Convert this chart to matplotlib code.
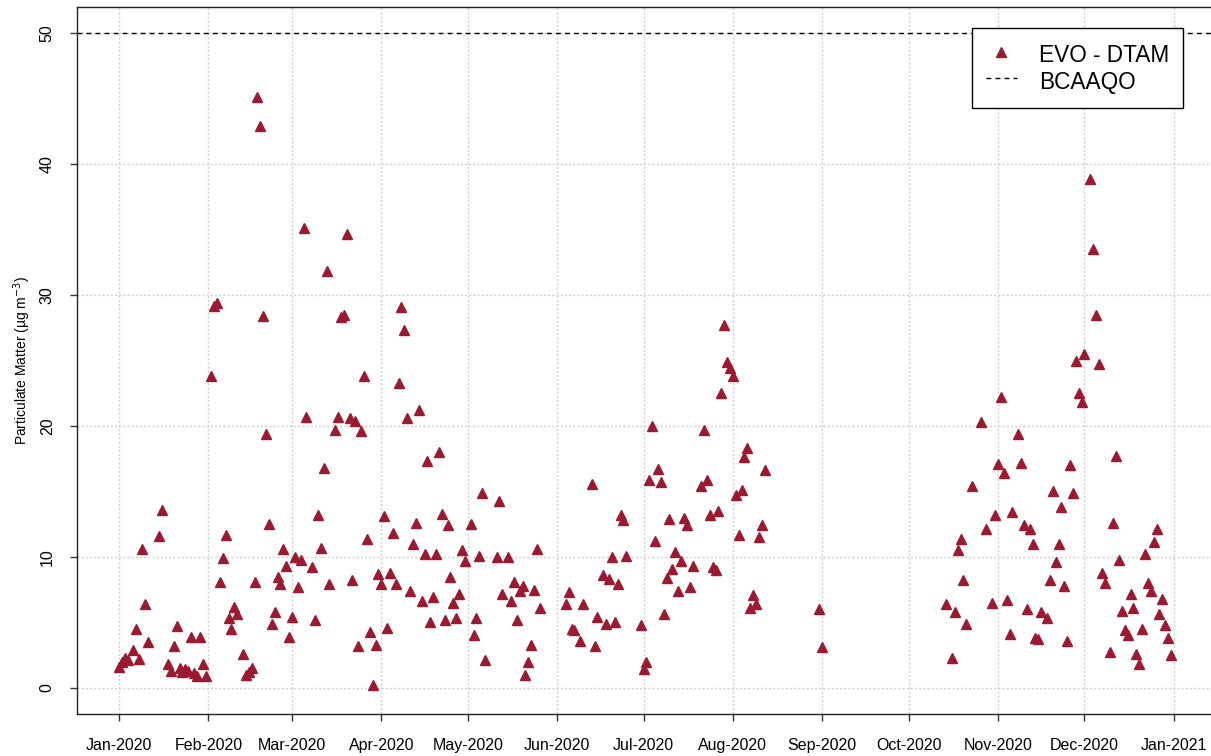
import pandas as pd
import matplotlib
matplotlib.use("Agg")
import matplotlib.pyplot as plt

plt.rcParams['font.family'] = ['Liberation Sans', 'DejaVu Sans']

# day of year (0 = 1 Jan 2020) and daily PM values
jan_days = [0, 1, 2, 3, 5, 6, 7, 8, 9, 10, 14, 15, 17, 18, 19, 20, 21, 22, 23, 24, 25, 26, 27, 28, 29, 30]
jan_pm = [1.6, 2.0, 2.3, 2.1, 2.9, 4.5, 2.2, 10.6, 6.4, 3.5, 11.6, 13.6, 1.8, 1.3, 3.2, 4.7, 1.5, 1.2, 1.4, 1.3,
          3.9, 1.1, 0.9, 3.9, 1.8, 0.9]

feb_days = [32, 33, 34, 35, 36, 37, 38, 39, 40, 41, 43, 44, 45, 46, 47, 48, 49, 50, 51, 52, 53, 54, 55, 56, 57, 58, 59]
feb_pm = [23.8, 29.2, 29.4, 8.1, 9.9, 11.7, 5.3, 4.5, 6.2, 5.6, 2.6, 1.0, 1.2, 1.5, 8.1, 45.1, 42.9, 28.4, 19.4,
          12.5, 4.9, 5.8, 8.5, 7.9, 10.6, 9.3, 3.9]

mar_days = [60, 61, 62, 63, 64, 65, 67, 68, 69, 70, 71, 72, 73, 75, 76, 77, 78, 79, 80, 81, 82, 83, 84, 85, 86, 87,
            88, 89, 90]
mar_pm = [5.4, 10.0, 7.7, 9.8, 35.1, 20.7, 9.2, 5.2, 13.2, 10.7, 16.8, 31.8, 7.9, 19.7, 20.7, 28.3, 28.5, 34.7,
          20.6, 8.2, 20.4, 3.2, 19.6, 23.8, 11.4, 4.3, 0.2, 3.3, 8.7]

apr_days = [91, 92, 93, 94, 95, 96, 97, 98, 99, 100, 101, 102, 103, 104, 105, 106, 107, 108, 109, 110, 111, 112,
            113, 114, 115, 116, 117, 118, 119, 120]
apr_pm = [7.9, 13.1, 4.6, 8.8, 11.8, 7.9, 23.3, 29.1, 27.3, 20.6, 7.4, 11.0, 12.6, 21.2, 6.6, 10.2, 17.3, 5.0, 6.9,
          10.2, 18.0, 13.3, 5.2, 12.4, 8.5, 6.5, 5.3, 7.2, 10.5, 9.7]

may_days = [122, 123, 124, 125, 126, 127, 131, 132, 133, 135, 136, 137, 138, 139, 140, 141, 142, 143, 144, 145, 146]
may_pm = [12.5, 4.0, 5.3, 10.1, 14.9, 2.1, 10.0, 14.3, 7.2, 10.0, 6.6, 8.1, 5.2, 7.4, 7.8, 1.0, 2.0, 3.3, 7.5,
          10.6, 6.1]

jun_days = [155, 156, 157, 158, 160, 161, 164, 165, 166, 168, 169, 170, 171, 172, 173, 174, 175, 176]
jun_pm = [6.4, 7.3, 4.5, 4.4, 3.6, 6.4, 15.6, 3.2, 5.4, 8.6, 4.9, 8.3, 10.0, 5.0, 7.9, 13.2, 12.8, 10.1]

jul_days = [181, 182, 183, 184, 185, 186, 187, 188, 189, 190, 191, 192, 193, 194, 195, 196, 197, 198, 199, 202,
            203, 204, 205, 206, 207, 208, 209, 210, 211, 212, 213]
jul_pm = [4.8, 1.4, 2.0, 15.9, 20.0, 11.2, 16.7, 15.7, 5.6, 8.4, 12.9, 9.1, 10.4, 7.4, 9.7, 13.0, 12.4, 7.7, 9.3,
          15.4, 19.7, 15.9, 13.2, 9.2, 9.0, 13.5, 22.5, 27.7, 24.9, 24.4, 23.8]

aug_days = [214, 215, 216, 217, 218, 219, 220, 221, 222, 223, 224, 243, 244]
aug_pm = [14.7, 11.7, 15.1, 17.6, 18.3, 6.1, 7.1, 6.4, 11.5, 12.4, 16.6, 6.0, 3.1]

nov_days = [287, 289, 290, 291, 292, 293, 294, 296, 299, 301, 303, 304, 305, 306, 307, 308, 309, 310, 312, 313,
            314, 315, 316, 317, 318, 319, 320, 322, 323, 324, 325, 326, 327, 328, 329, 330, 331, 332, 333, 334]
nov_pm = [6.4, 2.3, 5.8, 10.5, 11.4, 8.2, 4.9, 15.4, 20.3, 12.1, 6.5, 13.2, 17.1, 22.2, 16.4, 6.7, 4.1, 13.4, 19.4,
          17.2, 12.4, 6.0, 12.1, 11.0, 3.8, 3.7, 5.8, 5.3, 8.2, 15.0, 9.6, 11.0, 13.8, 7.8, 3.6, 17.0, 14.9, 25.0,
          22.5, 21.8]

dec_days = [335, 337, 338, 339, 340, 341, 342, 344, 345, 346, 347, 348, 349, 350, 351, 352, 353, 354, 355, 356,
            357, 358, 359, 360, 361, 362, 363, 364, 365]
dec_pm = [25.5, 38.9, 33.5, 28.5, 24.7, 8.8, 8.0, 2.7, 12.6, 17.7, 9.8, 5.9, 4.4, 4.0, 7.2, 6.1, 2.6, 1.8, 4.5,
          10.2, 8.0, 7.4, 11.1, 12.1, 5.6, 6.8, 4.8, 3.8, 2.5]

bcaaqo_limit = 50

days = (jan_days + feb_days + mar_days + apr_days + may_days + jun_days + jul_days + aug_days
        + nov_days + dec_days)
pm = jan_pm + feb_pm + mar_pm + apr_pm + may_pm + jun_pm + jul_pm + aug_pm + nov_pm + dec_pm

start = pd.Timestamp('2020-01-01')
dates = start + pd.to_timedelta(days, unit='D')
months = pd.date_range('2020-01-01', '2021-01-01', freq='MS')

fig = plt.figure(figsize=(12.11, 7.56), dpi=100)
ax = fig.add_axes([77 / 1211, 1 - 714 / 756, 1136 / 1211, 707 / 756])

# grid like R's grid(): dotted light grey
for m in months:
    ax.axvline(m, color='#cfcfcf', lw=1, ls=(0, (1.5, 1.5)), zorder=0)
for v in range(0, 60, 10):
    ax.axhline(v, color='#cfcfcf', lw=1, ls=(0, (1.5, 1.5)), zorder=0)

ax.plot(dates, pm, ls='none', marker='^', ms=7.2, color='#9c1a30', mec='#9c1a30', label='EVO - DTAM', zorder=3)
ax.axhline(bcaaqo_limit, color='black', lw=1, ls=(0, (3.5, 3)), label='BCAAQO', zorder=2)

ax.set_xlim(start + pd.Timedelta(days=-14.6), start + pd.Timedelta(days=379.6))
ax.set_ylim(-2, 52)

ax.set_xticks(months)
ax.set_xticklabels([m.strftime('%b-%Y') for m in months])
ax.set_yticks(range(0, 60, 10))
ax.tick_params(axis='both', direction='out', length=5, width=1, labelsize=11.5, color='#333333')
ax.tick_params(axis='x', pad=12)
ax.tick_params(axis='y', pad=11)
for lab in ax.get_yticklabels():
    lab.set_rotation(90)
    lab.set_va('center')

ax.set_ylabel('Particulate Matter (\u00b5g m$^{-3}$)', fontsize=10, labelpad=5)

for s in ax.spines.values():
    s.set_linewidth(1)
    s.set_color('#222222')

leg = ax.legend(loc='upper right', bbox_to_anchor=(0.9736, 0.9703), borderaxespad=0,
                fontsize=16.3, fancybox=False, framealpha=1, edgecolor='black',
                borderpad=0.6, handleheight=1.42, labelspacing=0, handlelength=1.35,
                handletextpad=1.0, numpoints=1)
leg.get_frame().set_linewidth(1)

fig.savefig('out.png', dpi=100)
